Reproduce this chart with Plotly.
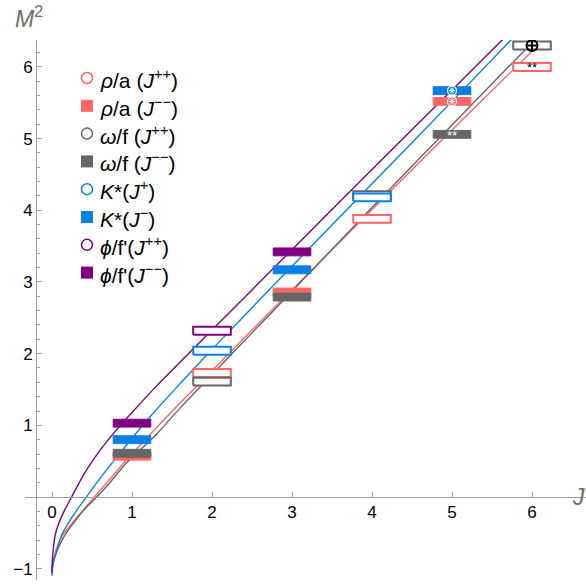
import plotly.graph_objects as go

# ---------------- data ----------------
# Regge-trajectory curves: J values and M^2 values
phi_curve_J  = [0, 0.003, 0.015, 0.04, 0.08, 0.15, 0.245, 0.4, 0.6, 0.8, 1.0, 1.3, 2.0, 3.0, 4.0, 5.0, 5.63]
phi_curve_M2 = [-1.05, -0.9, -0.74, -0.53, -0.38, -0.2, 0, 0.32, 0.65, 0.93, 1.18, 1.54, 2.33, 3.45, 4.57, 5.68, 6.38]

k_curve_J  = [0, 0.005, 0.025, 0.06, 0.12, 0.2, 0.3, 0.43, 0.6, 0.77, 1.0, 1.25, 1.5, 2.0, 3.0, 4.0, 5.0, 5.75]
k_curve_M2 = [-1.1, -1.0, -0.88, -0.75, -0.53, -0.37, -0.2, 0, 0.26, 0.5, 0.82, 1.15, 1.46, 2.06, 3.22, 4.37, 5.52, 6.39]

rho_curve_J  = [0, 0.005, 0.02, 0.05, 0.1, 0.154, 0.3, 0.4, 0.53, 0.7, 0.87, 1.0, 1.3, 1.6, 2.0, 2.5, 3.0, 4.0, 5.0, 6.0]
rho_curve_M2 = [-1.05, -0.96, -0.86, -0.74, -0.6, -0.5, -0.3, -0.17, 0, 0.22, 0.44, 0.6, 0.96, 1.31, 1.76, 2.33, 2.89, 4.01, 5.12, 6.22]

omega_curve_J  = [0, 0.005, 0.02, 0.05, 0.1, 0.18, 0.3, 0.4, 0.56, 0.7, 0.91, 1.0, 1.31, 1.6, 2.0, 2.5, 3.0, 4.0, 5.0, 5.975]
omega_curve_M2 = [-1.08, -0.99, -0.9, -0.79, -0.66, -0.5, -0.32, -0.18, 0, 0.17, 0.45, 0.55, 0.88, 1.24, 1.71, 2.29, 2.87, 4.04, 5.19, 6.31]

# measured states (box centres)
rho_pp_J,   rho_pp_M2   = [2, 4, 6], [1.73, 3.88, 6.00]
rho_mm_J,   rho_mm_M2   = [1, 3, 5], [0.57, 2.86, 5.52]
omega_pp_J, omega_pp_M2 = [2, 4, 6], [1.61, 4.21, 6.30]
omega_mm_J, omega_mm_M2 = [1, 3, 5], [0.61, 2.79, 5.06]
k_p_J,      k_p_M2      = [2, 4], [2.04, 4.18]
k_m_J,      k_m_M2      = [1, 3, 5], [0.80, 3.17, 5.67]
phi_pp_J,   phi_pp_M2   = [2], [2.32]
phi_mm_J,   phi_mm_M2   = [1, 3], [1.03, 3.42]

# special marks
star_circle_J,  star_circle_M2 = [5, 5], [5.67, 5.52]
cross_circle_J, cross_circle_M2 = [6], [6.30]
dstar_white_J,  dstar_white_M2 = [5], [5.03]
dstar_black_J,  dstar_black_M2 = [6], [5.98]

x_ticks = [0, 1, 2, 3, 4, 5, 6]
y_ticks = [-1, 1, 2, 3, 4, 5, 6]

legend_labels = [
    "<i>ρ</i>/a (<i>J</i><sup>++</sup>)",
    "<i>ρ</i>/a (<i>J</i><sup>−−</sup>)",
    "<i>ω</i>/f (<i>J</i><sup>++</sup>)",
    "<i>ω</i>/f (<i>J</i><sup>−−</sup>)",
    "<i>K</i>*(<i>J</i><sup>+</sup>)",
    "<i>K</i>*(<i>J</i><sup>−</sup>)",
    "<i>ϕ</i>/f'(<i>J</i><sup>++</sup>)",
    "<i>ϕ</i>/f'(<i>J</i><sup>−−</sup>)",
]

# ---------------- style ----------------
RED, GRAY, BLUE, PURPLE = "#ff6666", "#666666", "#0a80e6", "#800080"
HALF_W, HALF_H = 0.235, 0.055
FONT = "Liberation Sans, Arial, sans-serif"

W, H = 586, 588
L, R, T, B = 25, 0, 40, 8
x0_px, px_per_J = 52, 80.0
y0_px, px_per_M2 = 497, 71.67


def px2J(px):
    return (px - x0_px) / px_per_J


def py2M(py):
    return (y0_px - py) / px_per_M2


fig = go.Figure()

# curves
for xs, ys, c in [(rho_curve_J, rho_curve_M2, RED), (omega_curve_J, omega_curve_M2, GRAY),
                  (k_curve_J, k_curve_M2, BLUE), (phi_curve_J, phi_curve_M2, PURPLE)]:
    fig.add_trace(go.Scatter(x=xs, y=ys, mode="lines", showlegend=False, hoverinfo="skip",
                             line=dict(color=c, width=1.4, shape="spline", smoothing=0.6)))

annotations = []
LEG_X_MARK, LEG_X_TEXT, LEG_Y0, LEG_DY = 87, 98, 78, 27.8
leg_i = [0]


def boxes(js, ms, color, filled, name):
    bx, by = [], []
    for j, m in zip(js, ms):
        bx += [j - HALF_W, j + HALF_W, j + HALF_W, j - HALF_W, j - HALF_W, None]
        by += [m - HALF_H, m - HALF_H, m + HALF_H, m + HALF_H, m - HALF_H, None]
    fig.add_trace(go.Scatter(x=bx, y=by, mode="lines", fill="toself", showlegend=False,
                             hoverinfo="skip", name=name,
                             fillcolor=color if filled else "white",
                             line=dict(color=color, width=1.0 if filled else 2.0)))
    # legend entry (drawn by hand so that its spacing matches)
    py = LEG_Y0 + LEG_DY * leg_i[0]
    fig.add_trace(go.Scatter(x=[px2J(LEG_X_MARK)], y=[py2M(py)], mode="markers", showlegend=False,
                             hoverinfo="skip", cliponaxis=False, name=name,
                             marker=dict(symbol="square" if filled else "circle-open",
                                         size=12 if filled else 11, color=color,
                                         line=dict(color=color, width=1.5 if not filled else 0))))
    annotations.append(dict(text=name, x=px2J(LEG_X_TEXT), y=py2M(py + 1), xref="x", yref="y",
                            xanchor="left", yanchor="middle", showarrow=False,
                            font=dict(size=21, color="black", family=FONT)))
    leg_i[0] += 1


boxes(rho_pp_J, rho_pp_M2, RED, False, legend_labels[0])
boxes(rho_mm_J, rho_mm_M2, RED, True, legend_labels[1])
boxes(omega_pp_J, omega_pp_M2, GRAY, False, legend_labels[2])
boxes(omega_mm_J, omega_mm_M2, GRAY, True, legend_labels[3])
boxes(k_p_J, k_p_M2, BLUE, False, legend_labels[4])
boxes(k_m_J, k_m_M2, BLUE, True, legend_labels[5])
boxes(phi_pp_J, phi_pp_M2, PURPLE, False, legend_labels[6])
boxes(phi_mm_J, phi_mm_M2, PURPLE, True, legend_labels[7])

# special marks
fig.add_trace(go.Scatter(x=star_circle_J, y=star_circle_M2, mode="markers", showlegend=False,
                         hoverinfo="skip",
                         marker=dict(symbol="circle-open", size=9, color="white", line=dict(width=1.3))))
fig.add_trace(go.Scatter(x=star_circle_J, y=star_circle_M2, mode="markers", showlegend=False,
                         hoverinfo="skip",
                         marker=dict(symbol="asterisk-open", size=5, color="white", line=dict(width=1))))
fig.add_trace(go.Scatter(x=cross_circle_J, y=cross_circle_M2, mode="markers", showlegend=False,
                         hoverinfo="skip",
                         marker=dict(symbol="circle-cross-open", size=11, color="black",
                                     line=dict(width=2))))
fig.add_trace(go.Scatter(x=dstar_white_J, y=dstar_white_M2, mode="text", text=["**"] * len(dstar_white_J),
                         showlegend=False, hoverinfo="skip",
                         textfont=dict(color="white", size=13, family=FONT)))
fig.add_trace(go.Scatter(x=dstar_black_J, y=dstar_black_M2, mode="text", text=["**"] * len(dstar_black_J),
                         showlegend=False, hoverinfo="skip",
                         textfont=dict(color="black", size=13, family=FONT)))

# ---------------- layout ----------------
xr = [px2J(L), px2J(W - R)]
yr = [py2M(H - B), py2M(T)]
yaxis_pos = (36 - L) / (W - L - R)
xaxis_pos = (0 - yr[0]) / (yr[1] - yr[0])

annotations += [
    dict(text="<i>M</i><sup>2</sup>", xref="paper", yref="paper",
         x=(29 - L) / (W - L - R), y=(H - B - 17) / (H - T - B), xanchor="center", yanchor="middle",
         showarrow=False, font=dict(size=23, color="#6e6e6e", family=FONT)),
    dict(text="<i>J</i>", xref="paper", yref="paper",
         x=(578 - L) / (W - L - R), y=(H - B - 497) / (H - T - B), xanchor="center", yanchor="middle",
         showarrow=False, font=dict(size=23, color="#6e6e6e", family=FONT)),
]

fig.update_layout(
    width=W, height=H, margin=dict(l=L, r=R, t=T, b=B, autoexpand=False),
    plot_bgcolor="white", paper_bgcolor="white", showlegend=False,
    font=dict(family=FONT, size=16, color="black"),
    xaxis=dict(range=xr, anchor="free", position=xaxis_pos, showgrid=False, zeroline=False,
               automargin=False, fixedrange=True,
               showline=True, linecolor="#a0a0a0", linewidth=1,
               ticks="inside", ticklen=5, tickcolor="#a0a0a0", tickmode="array",
               tickvals=x_ticks, tickfont=dict(size=17, color="black")),
    yaxis=dict(range=yr, anchor="free", position=yaxis_pos, showgrid=False, zeroline=False,
               automargin=False, fixedrange=True,
               showline=True, linecolor="#a0a0a0", linewidth=1,
               ticks="inside", ticklen=5, tickcolor="#a0a0a0", tickmode="array",
               tickvals=y_ticks, tickfont=dict(size=17, color="black"),
               minor=dict(tickmode="linear", tick0=0, dtick=0.2, ticks="inside", ticklen=3,
                          tickcolor="#a0a0a0", showgrid=False)),
    annotations=annotations,
)

fig.write_html("out.html", config={"displayModeBar": False, "staticPlot": False},
               post_script="document.body.style.margin='0px';")
